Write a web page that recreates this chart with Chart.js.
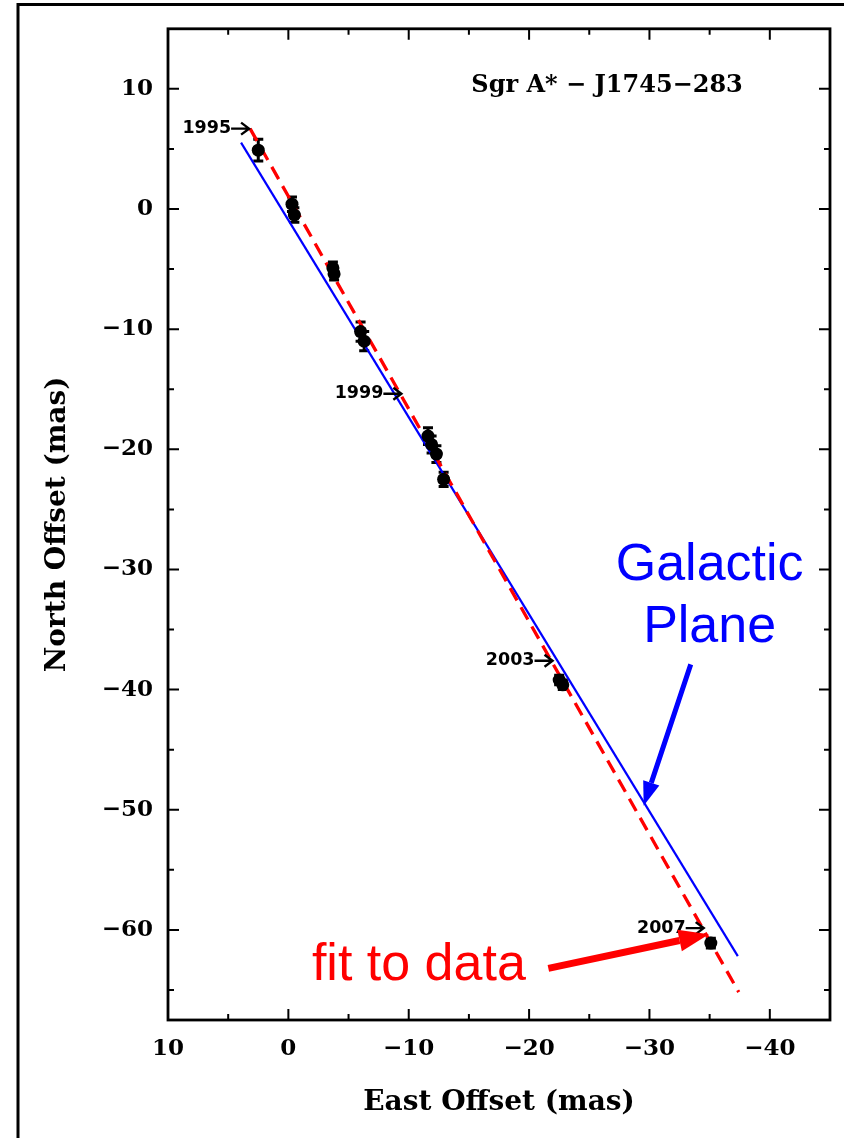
<!DOCTYPE html>
<html><head><meta charset="utf-8">
<script src="https://cdn.jsdelivr.net/npm/chart.js@4"></script>
<style>html,body{margin:0;padding:0;background:#fff;}canvas{display:block;}</style>
</head><body>
<canvas id="c" width="844" height="1138"></canvas>
<script>
// ---- data (mas) ----
const eastOffset  = [2.5, -0.3, -0.5, -3.7, -3.8, -6.0, -6.3, -11.6, -11.9, -12.3, -12.9, -22.5, -22.8, -35.1];
const northOffset = [4.9,  0.4, -0.5, -4.9, -5.4, -10.2, -11.0, -18.9, -19.6, -20.4, -22.5, -39.2, -39.6, -61.1];
const eastErr     = [0.3, 0.3, 0.3, 0.3, 0.3, 0.3, 0.3, 0.3, 0.3, 0.3, 0.3, 0.3, 0.3, 0.3];
const northErr    = [0.9, 0.6, 0.6, 0.5, 0.5, 0.8, 0.8, 0.7, 0.7, 0.7, 0.6, 0.4, 0.4, 0.4];

const planeEast  = [3.93, -37.34];
const planeNorth = [5.53, -62.18];
const fitEast    = [3.18, -37.42];
const fitNorth   = [6.69, -65.18];

const epochLabels = ['1995', '1999', '2003', '2007'];
const epochEast   = [3.18, -9.47, -22.03, -34.59];
const epochNorth  = [6.69, -15.37, -37.6, -59.85];

const xTickValues = [10, 0, -10, -20, -30, -40];
const yTickValues = [10, 0, -10, -20, -30, -40, -50, -60];
const xMinorValues = [5, -5, -15, -25, -35];
const yMinorValues = [5, -5, -15, -25, -35, -45, -55, -65];

const titleText = 'Sgr A* \u2212 J1745\u2212283';
const planeText = ['Galactic', 'Plane'];
const fitText = 'fit to data';

const SERIF = '"DejaVu Serif", serif';
const SANS = '"Liberation Sans", Arial, sans-serif';
const minusFmt = v => String(v).replace('-', '\u2212');

const pts = eastOffset.map((e, i) => ({x: e, y: northOffset[i]}));
const plane = planeEast.map((e, i) => ({x: e, y: planeNorth[i]}));
const fit = fitEast.map((e, i) => ({x: e, y: fitNorth[i]}));

function arrow(ctx, x0, y0, x1, y1, w, hl, hw, color) {
  const a = Math.atan2(y1 - y0, x1 - x0);
  const bx = x1 - hl * Math.cos(a), by = y1 - hl * Math.sin(a);
  ctx.save();
  ctx.strokeStyle = color; ctx.fillStyle = color; ctx.lineWidth = w;
  ctx.beginPath(); ctx.moveTo(x0, y0); ctx.lineTo(bx, by); ctx.stroke();
  ctx.beginPath();
  ctx.moveTo(x1, y1);
  ctx.lineTo(bx + hw / 2 * Math.sin(a), by - hw / 2 * Math.cos(a));
  ctx.lineTo(bx - hw / 2 * Math.sin(a), by + hw / 2 * Math.cos(a));
  ctx.closePath(); ctx.fill();
  ctx.restore();
}

const decor = {
  id: 'decor',
  beforeDraw(chart) {
    const ctx = chart.ctx;
    ctx.save();
    ctx.fillStyle = '#fff';
    ctx.fillRect(0, 0, chart.width, chart.height);
    ctx.strokeStyle = '#000'; ctx.lineWidth = 3;
    ctx.beginPath();
    ctx.moveTo(18, chart.height); ctx.lineTo(18, 4.5); ctx.lineTo(chart.width, 4.5);
    ctx.stroke();
    ctx.restore();
  },
  beforeDatasetsDraw(chart) {
    const ctx = chart.ctx, xs = chart.scales.x, ys = chart.scales.y;
    ctx.save();
    ctx.strokeStyle = '#000'; ctx.lineWidth = 3;
    eastOffset.forEach((e, i) => {
      const px = xs.getPixelForValue(e), py = ys.getPixelForValue(northOffset[i]);
      const t = ys.getPixelForValue(northOffset[i] + northErr[i]);
      const b = ys.getPixelForValue(northOffset[i] - northErr[i]);
      const l = xs.getPixelForValue(e + eastErr[i]);
      const r = xs.getPixelForValue(e - eastErr[i]);
      ctx.beginPath();
      ctx.moveTo(px, t); ctx.lineTo(px, b);
      ctx.moveTo(px - 5, t); ctx.lineTo(px + 5, t);
      ctx.moveTo(px - 5, b); ctx.lineTo(px + 5, b);
      ctx.moveTo(l, py); ctx.lineTo(r, py);
      ctx.moveTo(l, py - 4); ctx.lineTo(l, py + 4);
      ctx.moveTo(r, py - 4); ctx.lineTo(r, py + 4);
      ctx.stroke();
    });
    ctx.restore();
  },
  afterDraw(chart) {
    const ctx = chart.ctx, xs = chart.scales.x, ys = chart.scales.y, a = chart.chartArea;
    ctx.save();
    // box
    ctx.strokeStyle = '#000'; ctx.lineWidth = 2.8;
    ctx.strokeRect(a.left, a.top, a.right - a.left, a.bottom - a.top);
    // ticks (inward)
    ctx.lineWidth = 2;
    ctx.beginPath();
    const xt = (v, len) => { const p = xs.getPixelForValue(v);
      ctx.moveTo(p, a.bottom); ctx.lineTo(p, a.bottom - len);
      ctx.moveTo(p, a.top); ctx.lineTo(p, a.top + len); };
    const yt = (v, len) => { const p = ys.getPixelForValue(v);
      ctx.moveTo(a.left, p); ctx.lineTo(a.left + len, p);
      ctx.moveTo(a.right, p); ctx.lineTo(a.right - len, p); };
    xTickValues.forEach(v => xt(v, 11)); xMinorValues.forEach(v => xt(v, 6));
    yTickValues.forEach(v => yt(v, 11)); yMinorValues.forEach(v => yt(v, 6));
    ctx.stroke();

    // title text
    ctx.fillStyle = '#000';
    ctx.font = 'bold 24px ' + SERIF;
    ctx.textAlign = 'left'; ctx.textBaseline = 'alphabetic';
    ctx.fillText(titleText, xs.getPixelForValue(-15.2), ys.getPixelForValue(9.75));

    // epoch markers
    ctx.font = 'bold 17.5px "DejaVu Sans", sans-serif';
    ctx.textAlign = 'right'; ctx.textBaseline = 'middle';
    ctx.lineWidth = 2.4; ctx.strokeStyle = '#000';
    epochLabels.forEach((lab, i) => {
      const tx = xs.getPixelForValue(epochEast[i]), ty = ys.getPixelForValue(epochNorth[i]);
      ctx.beginPath();
      ctx.moveTo(tx - 19, ty); ctx.lineTo(tx - 1, ty);
      ctx.moveTo(tx - 9, ty - 6); ctx.lineTo(tx - 1, ty); ctx.lineTo(tx - 9, ty + 6);
      ctx.stroke();
      ctx.fillText(lab, tx - 19, ty);
    });

    // Galactic Plane
    ctx.font = '52px ' + SANS;
    ctx.textAlign = 'center'; ctx.textBaseline = 'alphabetic';
    ctx.fillStyle = '#0000ff';
    ctx.fillText(planeText[0], xs.getPixelForValue(-35.0), ys.getPixelForValue(-30.85));
    ctx.fillText(planeText[1], xs.getPixelForValue(-35.0), ys.getPixelForValue(-36.0));
    arrow(ctx, xs.getPixelForValue(-33.43), ys.getPixelForValue(-37.9),
               xs.getPixelForValue(-29.52), ys.getPixelForValue(-49.66), 5, 24, 17, '#0000ff');

    // fit to data
    ctx.fillStyle = '#ff0000';
    ctx.fillText(fitText, xs.getPixelForValue(-10.84), ys.getPixelForValue(-64.2));
    arrow(ctx, xs.getPixelForValue(-21.6), ys.getPixelForValue(-63.2),
               xs.getPixelForValue(-34.94), ys.getPixelForValue(-60.36), 7, 30, 22, '#ff0000');
    ctx.restore();
  }
};

new Chart(document.getElementById('c'), {
  type: 'scatter',
  data: {
    datasets: [
      {label: 'data', data: pts, order: 0, pointRadius: 6.5, pointBackgroundColor: '#000',
       pointBorderWidth: 0, showLine: false},
      {label: 'fit', data: fit, order: 1, showLine: true, borderColor: '#ff0000', borderWidth: 3.3,
       borderDash: [14, 8], pointRadius: 0, fill: false},
      {label: 'plane', data: plane, order: 2, showLine: true, borderColor: '#0000ff', borderWidth: 2.2,
       pointRadius: 0, fill: false}
    ]
  },
  plugins: [decor],
  options: {
    responsive: false, animation: false, devicePixelRatio: 1, events: [],
    layout: {padding: {left: 0, right: 14, top: 24, bottom: 0}},
    plugins: {legend: {display: false}, tooltip: {enabled: false}},
    scales: {
      x: {
        type: 'linear', position: 'bottom', reverse: true, min: -45, max: 10,
        afterBuildTicks: s => { s.ticks = xTickValues.map(v => ({value: v})); },
        afterFit: s => { s.height = 118; },
        grid: {display: false, drawTicks: false}, border: {display: false},
        ticks: {color: '#000', font: {family: SERIF, size: 23, weight: 'bold'}, padding: 15,
                callback: minusFmt, maxRotation: 0, autoSkip: false},
        title: {display: true, text: 'East Offset (mas)', color: '#000',
                font: {family: SERIF, size: 28, weight: 'bold', lineHeight: 1.2},
                padding: {top: 0, bottom: 18}}
      },
      y: {
        type: 'linear', position: 'left', min: -67.5, max: 15,
        afterBuildTicks: s => { s.ticks = yTickValues.map(v => ({value: v})); },
        afterFit: s => { s.width = 168; },
        grid: {display: false, drawTicks: false}, border: {display: false},
        ticks: {color: '#000', font: {family: SERIF, size: 23, weight: 'bold'}, padding: 15,
                callback: minusFmt, autoSkip: false},
        title: {display: true, text: 'North Offset (mas)', color: '#000',
                font: {family: SERIF, size: 28, weight: 'bold', lineHeight: 1.2},
                padding: {top: 41, bottom: 0}}
      }
    }
  }
});
</script>
</body></html>
